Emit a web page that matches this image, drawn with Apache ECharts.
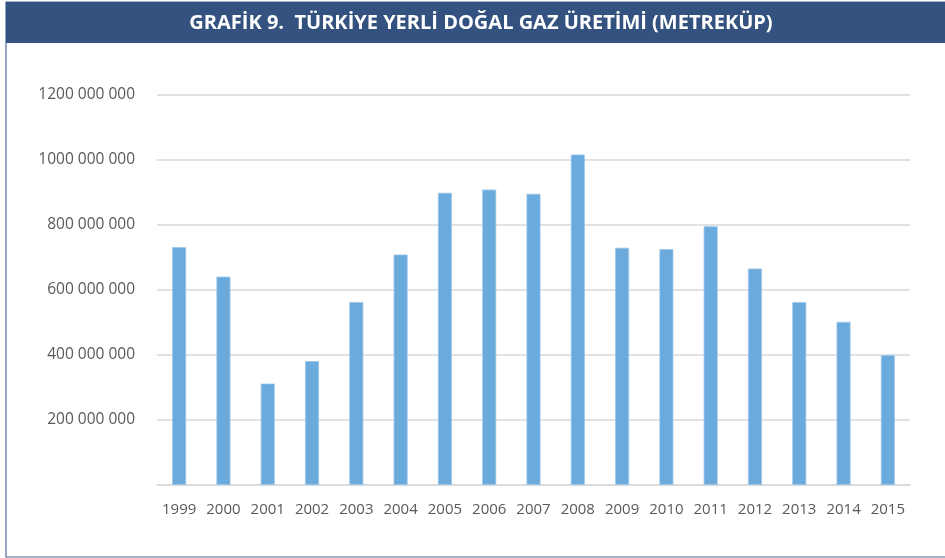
<!doctype html>
<html lang="tr">
<head>
    <meta charset="UTF-8">
    <title>Türkiye yerli doğal gaz üretimi</title>
    <script src="https://cdn.jsdelivr.net/npm/echarts@6/dist/echarts.min.js"></script>
    <style>
        html, body { margin: 0; padding: 0; background: #fff; }
        #gas_echart { width: 945px; height: 558px; }
    </style>
</head>
<body>
<div id="gas_echart"></div>

<script type="text/javascript">
/* 데이터 */
const years = ['1999', '2000', '2001', '2002', '2003', '2004', '2005', '2006', '2007',
    '2008', '2009', '2010', '2011', '2012', '2013', '2014', '2015'];
const production = [732000000, 641000000, 312000000, 381000000, 563000000, 709000000,
    899000000, 909000000, 896000000, 1017000000, 730000000, 726000000, 796000000,
    666000000, 563000000, 502000000, 400000000];
const yTicks = [0, 200000000, 400000000, 600000000, 800000000, 1000000000, 1200000000];
const titleText = 'GRAFİK 9.  TÜRKİYE YERLİ DOĞAL GAZ ÜRETİMİ (METREKÜP)';

/* 차트 그리기 */
let gas_echart = echarts.init(document.getElementById('gas_echart'));

let option = {
    animation: false,
    textStyle: { fontFamily: 'Open Sans' },
    graphic: [
        {
            type: 'rect',
            shape: { x: 6, y: 2, width: 960, height: 555 },
            style: { fill: 'none', stroke: '#4a6a9c', lineWidth: 1.2 },
            z: 0
        }, {
            type: 'rect',
            shape: { x: 6, y: 2, width: 945, height: 41 },
            style: { fill: '#34527f' },
            z: 1
        }, {
            type: 'text',
            x: 481,
            y: 23,
            style: {
                text: titleText,
                fill: '#fff',
                font: 'bold 20px "Open Sans"',
                align: 'center',
                verticalAlign: 'middle'
            },
            z: 2
        }
    ],
    grid: { left: 157, right: 35, top: 95, bottom: 73 },
    xAxis: {
        type: 'category',
        data: years,
        axisLine: { lineStyle: { color: '#d9d9d9', width: 1.5 } },
        axisTick: { show: false },
        axisLabel: { color: '#595959', fontSize: 15, margin: 17, interval: 0 }
    },
    yAxis: {
        type: 'value',
        min: yTicks[0],
        max: yTicks[yTicks.length - 1],
        interval: yTicks[1] - yTicks[0],
        axisLine: { show: false },
        axisTick: { show: false },
        splitLine: { lineStyle: { color: '#d9d9d9', width: 1.5 } },
        axisLabel: {
            color: '#595959',
            fontSize: 15.5,
            margin: 22,
            formatter: function (v) {
                if (v === 0) return '';
                return (v / 1000000) + ' 000 000';
            }
        }
    },
    series: [
        {
            type: 'bar',
            data: production,
            barWidth: 14,
            itemStyle: { color: '#6aaadd', borderColor: '#9cc6ea', borderWidth: 0.8 }
        }
    ]
};
gas_echart.setOption(option);
</script>
</body>
</html>
